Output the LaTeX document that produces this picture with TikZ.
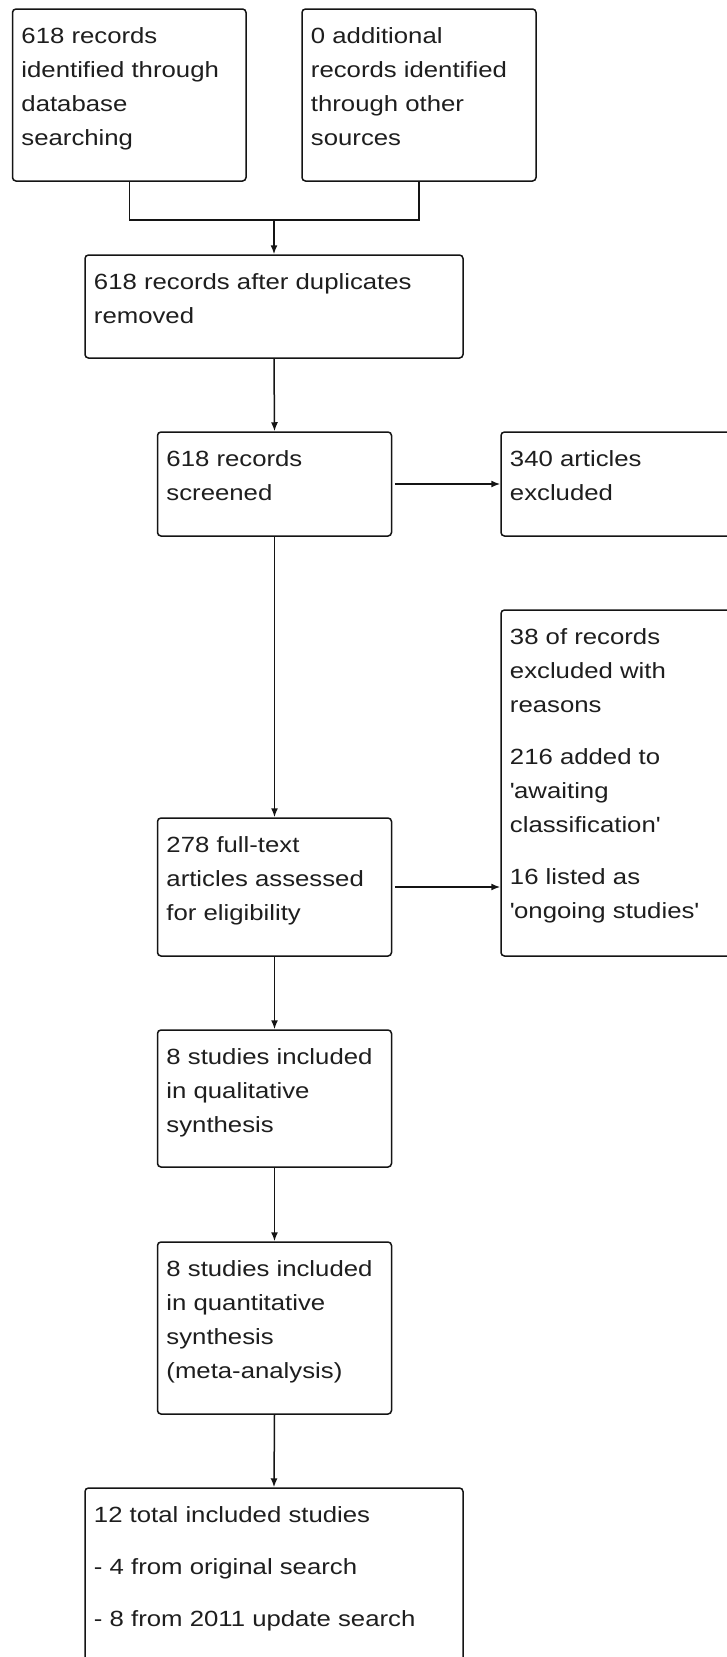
\documentclass[tikz,border=0pt]{standalone}
\usepackage{fontspec}
\setmainfont{Liberation Sans}[FakeStretch=1.17]
\usetikzlibrary{arrows.meta}
\definecolor{ink}{RGB}{20,20,20}
\definecolor{txtc}{RGB}{30,30,30}
\newcommand{\boxtext}[2]{\parbox[t]{#1}{\fontsize{22}{34}\selectfont\raggedright\parindent=0pt\parskip=18pt #2}}
\newcommand{\sq}{\textquotesingle}
\begin{document}
\begin{tikzpicture}[x=1pt,y=-1pt,
  box/.style={draw=ink,line width=1.5pt,rounded corners=3.5pt,inner sep=0pt,fill=white},
  txt/.style={anchor=base west,inner sep=0pt,text=txtc},
  conn/.style={draw=ink,line width=1.5pt},
  arr/.style={conn,-{Latex[length=9pt,width=7pt]}}]
\useasboundingbox[fill=white] (0,0) rectangle (726,1657);
% boxes
\node[box,minimum width=233.5pt,minimum height=172pt] (A) at (129.25,95) {};
\node[box,minimum width=234pt,minimum height=172pt] (B) at (419,95) {};
\node[box,minimum width=378pt,minimum height=103pt] (C) at (274,306.5) {};
\node[box,minimum width=234pt,minimum height=104pt] (D) at (274.5,484) {};
\node[box,minimum width=244pt,minimum height=104pt] (E) at (623,484) {};
\node[box,minimum width=234pt,minimum height=138pt] (F) at (274.5,887) {};
\node[box,minimum width=244pt,minimum height=346pt] (G) at (623,783) {};
\node[box,minimum width=234pt,minimum height=137pt] (H) at (274.5,1098.5) {};
\node[box,minimum width=234pt,minimum height=172pt] (I) at (274.5,1328) {};
\node[box,minimum width=378pt,minimum height=192pt] (J) at (274,1584) {};
% texts
\node[txt] (At) at ([shift={(9.5,35)}]A.north west) {\boxtext{220pt}{618 records\\identified through\\database\\searching}};
\node[txt] (Bt) at ([shift={(9.5,35)}]B.north west) {\boxtext{220pt}{0 additional\\records identified\\through other\\sources}};
\node[txt] (Ct) at ([shift={(9.5,35)}]C.north west) {\boxtext{360pt}{618 records after duplicates\\removed}};
\node[txt] (Dt) at ([shift={(9.5,35)}]D.north west) {\boxtext{220pt}{618 records\\screened}};
\node[txt] (Et) at ([shift={(9.5,35)}]E.north west) {\boxtext{220pt}{340 articles\\excluded}};
\node[txt] (Ft) at ([shift={(9.5,35)}]F.north west) {\boxtext{220pt}{278 full-text\\articles assessed\\for eligibility}};
\node[txt] (Gt) at ([shift={(9.5,35)}]G.north west) {\boxtext{220pt}{38 of records\\excluded with\\reasons\par 216 added to\\\sq awaiting\\classification\sq\par 16 listed as\\\sq ongoing studies\sq}};
\node[txt] (Ht) at ([shift={(9.5,35)}]H.north west) {\boxtext{220pt}{8 studies included\\in qualitative\\synthesis}};
\node[txt] (It) at ([shift={(9.5,35)}]I.north west) {\boxtext{220pt}{8 studies included\\in quantitative\\synthesis\\(meta-analysis)}};
\node[txt] (Jt) at ([shift={(9.5,35)}]J.north west) {\boxtext{360pt}{12 total included studies\par - 4 from original search\par - 8 from 2011 update search}};
% connectors
\coordinate (m) at (274,220);
\draw[conn] (A.south) -- (A.south |- m) -- (B.south |- m) -- (B.south);
\draw[arr] (m) -- (C.north);
\draw[arr] (C.south) -- (D.north);
\draw[arr] ([xshift=2.5pt]D.east) -- (E.west);
\draw[arr] (D.south) -- (F.north);
\draw[arr] ([xshift=2.5pt]F.east) -- (F.east -| G.west);
\draw[arr] (F.south) -- (H.north);
\draw[arr] (H.south) -- (I.north);
\draw[arr] (I.south) -- (J.north);
\end{tikzpicture}
\end{document}
